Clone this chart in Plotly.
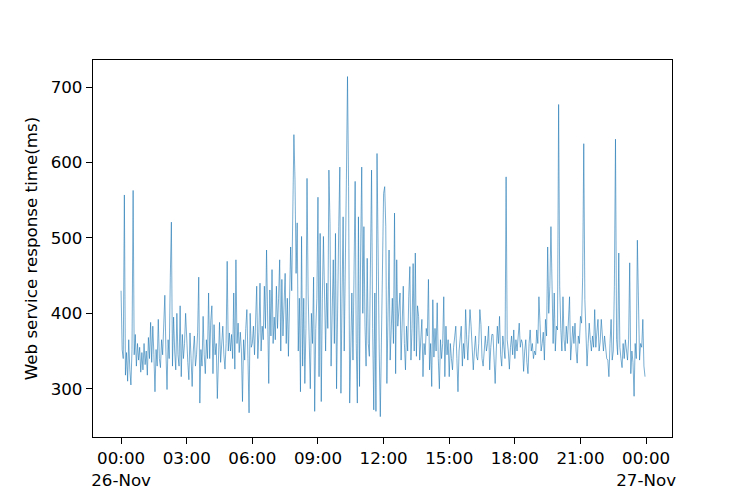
import pandas as pd
import plotly.graph_objects as go

# response time (ms), one reading every 3 minutes from 26-Nov 00:00
h00 = [430, 352, 340, 557, 318, 348, 310, 365, 325, 305, 352, 563, 345, 372, 330, 360, 338, 355, 322, 348]
h01 = [325, 360, 332, 350, 318, 368, 340, 388, 335, 383, 345, 296, 352, 330, 392, 340, 328, 365, 345, 380]
h02 = [424, 350, 299, 365, 340, 448, 521, 330, 395, 350, 325, 400, 345, 330, 410, 316, 372, 340, 360, 400]
h03 = [360, 335, 312, 374, 340, 303, 350, 370, 330, 345, 375, 448, 281, 352, 330, 396, 345, 320, 365, 340]
h04 = [427, 340, 390, 410, 320, 385, 345, 360, 287, 350, 388, 335, 355, 383, 345, 326, 360, 469, 350, 374]
h05 = [350, 372, 340, 427, 326, 471, 360, 387, 348, 375, 350, 283, 365, 338, 380, 405, 340, 268, 400, 355]
h06 = [360, 383, 345, 400, 436, 340, 375, 440, 350, 383, 365, 436, 380, 484, 350, 307, 431, 370, 458, 360]
h07 = [395, 365, 436, 380, 420, 471, 350, 445, 370, 410, 453, 360, 420, 343, 400, 488, 430, 559, 637, 577]
h08 = [453, 520, 350, 420, 296, 502, 330, 420, 307, 380, 579, 427, 338, 300, 400, 360, 448, 270, 380, 420]
h09 = [554, 316, 506, 283, 420, 502, 427, 350, 440, 380, 590, 519, 330, 420, 471, 360, 506, 300, 453, 515]
h10 = [594, 294, 420, 528, 350, 440, 577, 714, 568, 281, 380, 427, 338, 460, 575, 360, 281, 528, 303, 480]
h11 = [594, 400, 515, 383, 330, 473, 360, 343, 450, 590, 380, 272, 427, 270, 612, 440, 350, 263, 383, 500]
h12 = [559, 568, 515, 307, 427, 484, 338, 383, 420, 360, 533, 320, 471, 383, 400, 427, 338, 380, 436, 360]
h13 = [325, 383, 350, 422, 462, 338, 380, 466, 350, 480, 343, 410, 396, 338, 370, 392, 316, 360, 345, 380]
h14 = [370, 445, 325, 360, 303, 418, 342, 380, 350, 414, 340, 300, 365, 340, 360, 422, 316, 383, 345, 365]
h15 = [316, 360, 340, 325, 355, 370, 383, 340, 296, 350, 365, 383, 330, 360, 340, 405, 365, 338, 372, 405]
h16 = [383, 360, 325, 350, 370, 343, 338, 360, 405, 385, 340, 330, 355, 370, 350, 360, 383, 325, 355, 372]
h17 = [372, 340, 307, 350, 383, 360, 396, 345, 330, 370, 350, 340, 581, 365, 350, 326, 355, 370, 345, 378]
h18 = [340, 365, 350, 372, 387, 355, 365, 360, 323, 350, 365, 335, 320, 360, 378, 350, 360, 340, 350, 345]
h19 = [378, 360, 422, 387, 350, 360, 375, 338, 392, 370, 488, 400, 436, 515, 418, 360, 427, 350, 383, 378]
h20 = [677, 436, 380, 350, 422, 365, 350, 383, 360, 405, 422, 338, 365, 383, 360, 387, 350, 334, 370, 360]
h21 = [396, 387, 448, 625, 418, 374, 330, 360, 387, 365, 350, 370, 355, 405, 355, 375, 392, 350, 362, 392]
h22 = [365, 350, 370, 355, 340, 338, 316, 360, 392, 338, 350, 436, 631, 365, 345, 480, 355, 340, 328, 360]
h23 = [340, 365, 345, 338, 365, 467, 320, 350, 335, 290, 360, 340, 497, 383, 338, 360, 355, 392, 330, 316]

response_ms = (h00 + h01 + h02 + h03 + h04 + h05 + h06 + h07 + h08 + h09 + h10 + h11
               + h12 + h13 + h14 + h15 + h16 + h17 + h18 + h19 + h20 + h21 + h22 + h23)
times = pd.date_range("2019-11-26 00:00", periods=len(response_ms), freq="3min")

tick_times = pd.date_range("2019-11-26 00:00", "2019-11-27 00:00", freq="3h")
tick_labels = ["00:00<br>26-Nov", "03:00", "06:00", "09:00", "12:00",
               "15:00", "18:00", "21:00", "00:00<br>27-Nov"]

fig = go.Figure()
fig.add_trace(go.Scatter(x=times, y=response_ms, mode="lines",
                         line=dict(color="#1f77b4", width=0.6), showlegend=False))

axis_style = dict(showline=True, linecolor="black", linewidth=1.3, mirror=True,
                  ticks="outside", ticklen=6, tickwidth=1.3, tickcolor="black",
                  showgrid=False, zeroline=False, tickfont=dict(size=16.7, color="black"))
fig.update_xaxes(range=["2019-11-25 22:43", "2019-11-27 01:11"],
                 tickvals=tick_times, ticktext=tick_labels, tickangle=0, **axis_style)
fig.update_yaxes(range=[236, 736], tickvals=[300, 400, 500, 600, 700],
                 title=dict(text="Web service response time(ms)", standoff=8,
                            font=dict(size=16.7, color="black")),
                 **axis_style)
# the page body adds an 8px offset, so margins are shifted by that much
fig.update_layout(width=747, height=498, margin=dict(l=85, r=83, t=52, b=69),
                  paper_bgcolor="white", plot_bgcolor="white",
                  font=dict(family="DejaVu Sans", color="black"))

fig.write_html("out.html")
